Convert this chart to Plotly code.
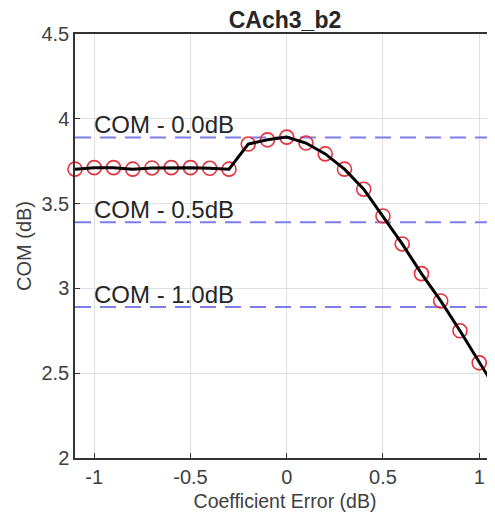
import plotly.graph_objects as go

# Data
coef_err = [-1.1, -1.0, -0.9, -0.8, -0.7, -0.6, -0.5, -0.4, -0.3, -0.2, -0.1, 0.0,
            0.1, 0.2, 0.3, 0.4, 0.5, 0.6, 0.7, 0.8, 0.9, 1.0, 1.1]
com_db = [3.703, 3.712, 3.712, 3.703, 3.710, 3.712, 3.712, 3.708, 3.703, 3.851, 3.876, 3.892,
          3.857, 3.793, 3.703, 3.585, 3.427, 3.262, 3.087, 2.926, 2.750, 2.561, 2.381]
com_ref = 3.89
ref_offsets = [0.0, 0.5, 1.0]
ref_labels = ["COM - 0.0dB", "COM - 0.5dB", "COM - 1.0dB"]
x_ticks = [-1, -0.5, 0, 0.5, 1]
x_tick_text = ["-1", "-0.5", "0", "0.5", "1"]
y_ticks = [2, 2.5, 3, 3.5, 4, 4.5]
y_tick_text = ["2", "2.5", "3", "3.5", "4", "4.5"]

FONT = "Liberation Sans, Arial, sans-serif"
W, H = 487, 508  # page body has an 8px margin

fig = go.Figure()

for off in ref_offsets:
    fig.add_trace(go.Scatter(
        x=[coef_err[0], coef_err[-1]], y=[com_ref - off, com_ref - off],
        mode="lines", line=dict(color="rgb(125,125,235)", width=2, dash="16px,9px"),
        hoverinfo="skip", showlegend=False))

fig.add_trace(go.Scatter(
    x=coef_err, y=com_db, mode="markers", cliponaxis=False,
    marker=dict(symbol="circle-open", size=14, color="rgb(228,50,60)",
                line=dict(width=1.6, color="rgb(228,50,60)")),
    showlegend=False))
fig.add_trace(go.Scatter(
    x=coef_err, y=com_db, mode="lines", cliponaxis=False,
    line=dict(color="black", width=3), showlegend=False))

for off, lab in zip(ref_offsets, ref_labels):
    fig.add_annotation(x=-1.0, y=com_ref - off, xref="x", yref="y",
                       text=lab, showarrow=False, xanchor="left", yanchor="middle",
                       yshift=13, xshift=-2,
                       font=dict(family=FONT, size=24, color="#262626"))

fig.update_layout(
    width=W, height=H,
    margin=dict(l=67, r=0, t=26, b=58, autoexpand=False),
    paper_bgcolor="white", plot_bgcolor="white",
    title=dict(text="<b>CAch3_b2</b>", x=0.5, xref="paper", xanchor="center",
               y=1 - 4 / H, yref="container", yanchor="top", pad=dict(t=0, b=0),
               automargin=False,
               font=dict(family=FONT, size=23, color="#262626")),
    xaxis=dict(range=[-1.1, 1.082], tickvals=x_ticks, ticktext=x_tick_text,
               automargin=False,
               showgrid=True, gridcolor="#e0e0e0", gridwidth=1,
               showline=True, linecolor="#333333", linewidth=1.5, mirror=True,
               ticks="inside", ticklen=5, tickcolor="#333333", zeroline=False,
               tickfont=dict(family=FONT, size=20, color="#404040"),
               title=dict(text="Coefficient Error (dB)", standoff=8,
                          font=dict(family=FONT, size=19.5, color="#404040"))),
    yaxis=dict(range=[2, 4.5], tickvals=y_ticks, ticktext=y_tick_text,
               automargin=False,
               showgrid=True, gridcolor="#e0e0e0", gridwidth=1,
               showline=True, linecolor="#333333", linewidth=1.5, mirror=True,
               ticks="inside", ticklen=5, tickcolor="#333333", zeroline=False,
               tickfont=dict(family=FONT, size=20, color="#404040"),
               title=dict(text="COM (dB)", standoff=4,
                          font=dict(family=FONT, size=20, color="#404040"))),
)

fig.write_html("out.html")
